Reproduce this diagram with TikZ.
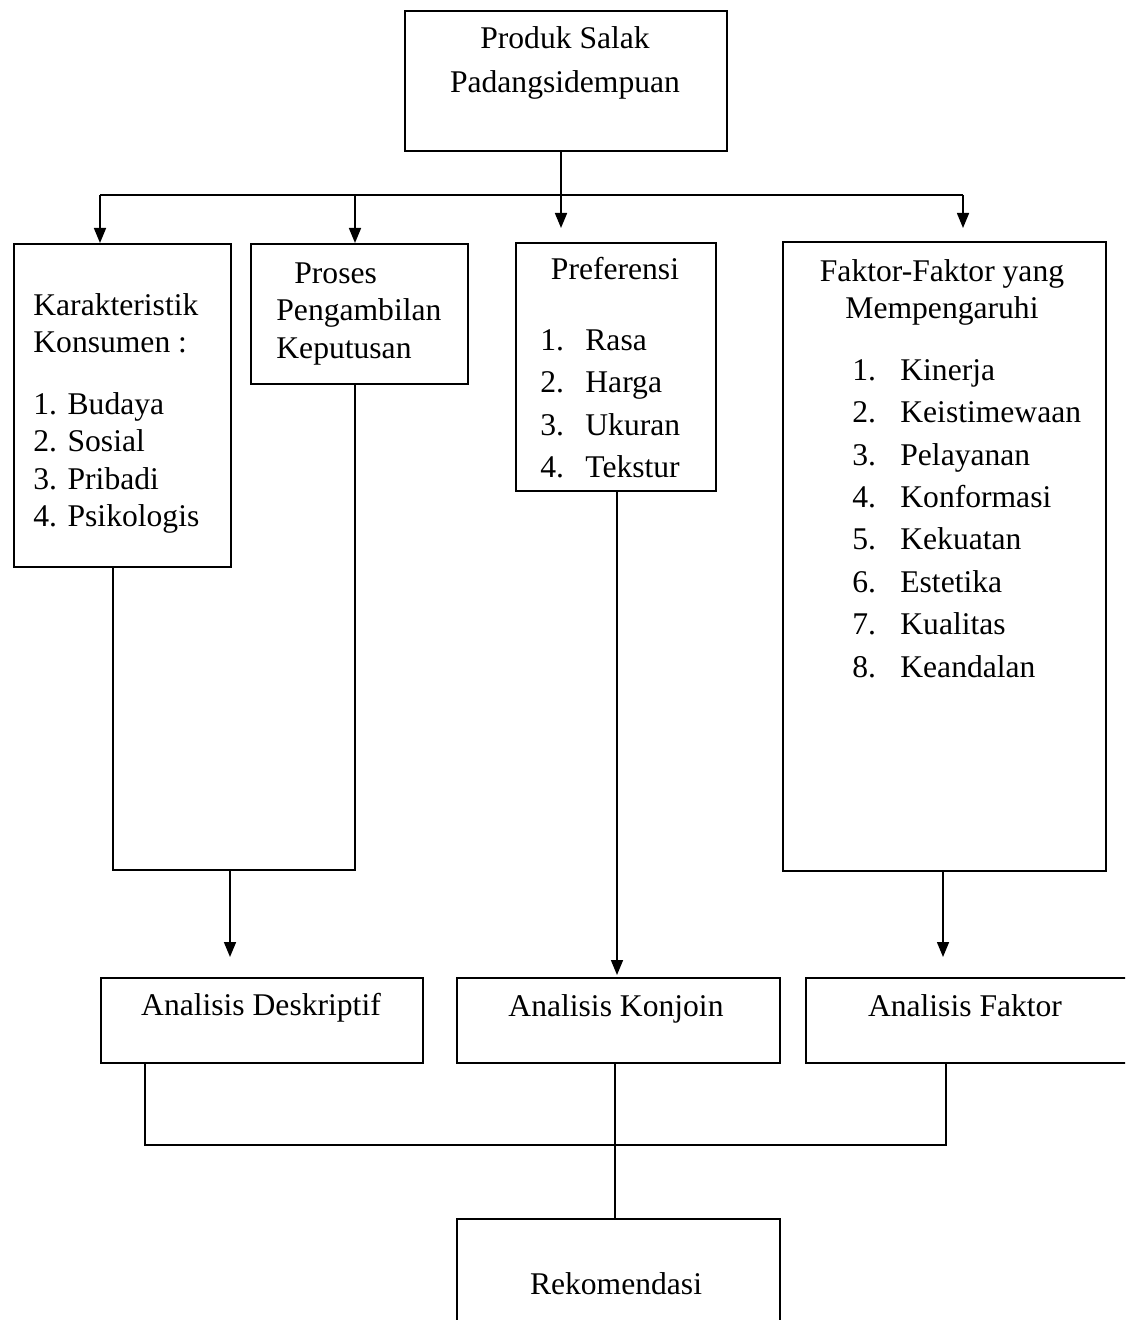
\documentclass[tikz,border=0pt]{standalone}
\usepackage{fontspec}
\setmainfont{Liberation Serif}
\usetikzlibrary{arrows.meta,positioning}

\begin{document}
\begin{tikzpicture}[x=0.5pt,y=-0.5pt,
box/.style={draw,line width=0.8pt,inner sep=0pt,anchor=north west},
txt/.style={inner sep=0pt,align=left,font=\fontsize{15.8pt}{18.75pt}\selectfont},
lst/.style={inner sep=0pt,align=left,font=\fontsize{15.8pt}{21.2pt}\selectfont},
ln/.style={line width=0.8pt},
arr/.style={ln,-{Triangle[length=7.5pt,width=6pt]}}
]
\useasboundingbox (0,0) rectangle (1125,1320);
\clip (0,0) rectangle (1125,1320);

% boxes
\node[box,minimum width=161pt,minimum height=70pt] (produk) at (404,10) {};
\node[box,minimum width=108.5pt,minimum height=161.5pt] (karakter) at (13,243) {};
\node[box,minimum width=108.5pt,minimum height=70pt] (proses) at (250,243) {};
\node[box,minimum width=100pt,minimum height=124pt] (pref) at (515,242) {};
\node[box,minimum width=161.5pt,minimum height=314.5pt] (faktor) at (782,241) {};
\node[box,minimum width=161pt,minimum height=42.5pt] (deskriptif) at (100,977) {};
\node[box,minimum width=161.5pt,minimum height=42.5pt] (konjoin) at (456,977) {};
\node[box,minimum width=161.5pt,minimum height=42.5pt] (anfaktor) at (805,977) {};
\node[box,minimum width=161.5pt,minimum height=60pt] (rekom) at (456,1218) {};

% texts
\node[txt,align=center,font=\fontsize{15.8pt}{22pt}\selectfont,anchor=north] (produk-t) at (565,26) {Produk Salak\\Padangsidempuan};
\node[txt,anchor=north west] (karakter-t) at (33,293) {Karakteristik\\Konsumen :\\[12pt]1. Budaya\\2. Sosial\\3. Pribadi\\4. Psikologis};
\node[txt,anchor=north west] (proses-t) at (276,262) {\hspace{9pt}Proses\\Pengambilan\\Keputusan};
\node[txt,anchor=base] (pref-t) at (615,280) {Preferensi};
\node[lst,anchor=north west] (pref-l) at (540,329) {\makebox[22.5pt][l]{1.}Rasa\\\makebox[22.5pt][l]{2.}Harga\\\makebox[22.5pt][l]{3.}Ukuran\\\makebox[22.5pt][l]{4.}Tekstur};
\node[txt,align=center,font=\fontsize{15.8pt}{18.5pt}\selectfont,anchor=north] (faktor-t) at (942,259) {Faktor-Faktor yang\\Mempengaruhi};
\node[lst,anchor=north west] (faktor-l) at (852,359) {\makebox[24pt][l]{1.}Kinerja\\\makebox[24pt][l]{2.}Keistimewaan\\\makebox[24pt][l]{3.}Pelayanan\\\makebox[24pt][l]{4.}Konformasi\\\makebox[24pt][l]{5.}Kekuatan\\\makebox[24pt][l]{6.}Estetika\\\makebox[24pt][l]{7.}Kualitas\\\makebox[24pt][l]{8.}Keandalan};
\node[txt,anchor=base] (deskriptif-t) at (261,1015) {Analisis Deskriptif};
\node[txt,anchor=base] (konjoin-t) at (616,1016) {Analisis Konjoin};
\node[txt,anchor=base] (anfaktor-t) at (965,1016) {Analisis Faktor};
\node[txt,anchor=base] (rekom-t) at (616,1294) {Rekomendasi};

% top branching
\coordinate (hub) at (561,195);
\coordinate (busL) at (100,195);
\coordinate (busP) at (355,195);
\coordinate (busR) at (963,195);
\draw[ln] (hub |- produk.south) -- (hub);
\draw[line width=1.1pt] (busL) -- (busR);
\draw[arr] (busL) -- (busL |- karakter.north);
\draw[arr] (busP) -- (busP |- proses.north);
\draw[arr,shorten >=7pt] (hub) -- (hub |- pref.north);
\draw[arr,shorten >=6.5pt] (busR) -- (busR |- faktor.north);

% to analyses
\coordinate (joinL) at (113,870);
\coordinate (joinP) at (355,870);
\coordinate (joinD) at (230,870);
\coordinate (joinK) at (617,870);
\coordinate (joinF) at (943,870);
\draw[ln] (joinL |- karakter.south) -- (joinL) -- (joinP) -- (joinP |- proses.south);
\draw[arr,shorten >=10pt] (joinD) -- (joinD |- deskriptif.north);
\draw[arr,shorten >=1pt] (joinK |- pref.south) -- (joinK |- konjoin.north);
\draw[arr,shorten >=10pt] (joinF |- faktor.south) -- (joinF |- anfaktor.north);

% to recommendation
\coordinate (lowL) at (145,1145);
\coordinate (lowM) at (615,1145);
\coordinate (lowR) at (946,1145);
\draw[ln] (lowL |- deskriptif.south) -- (lowL) -- (lowR) -- (lowR |- anfaktor.south);
\draw[ln] (lowM |- konjoin.south) -- (lowM |- rekom.north);
\end{tikzpicture}
\end{document}
